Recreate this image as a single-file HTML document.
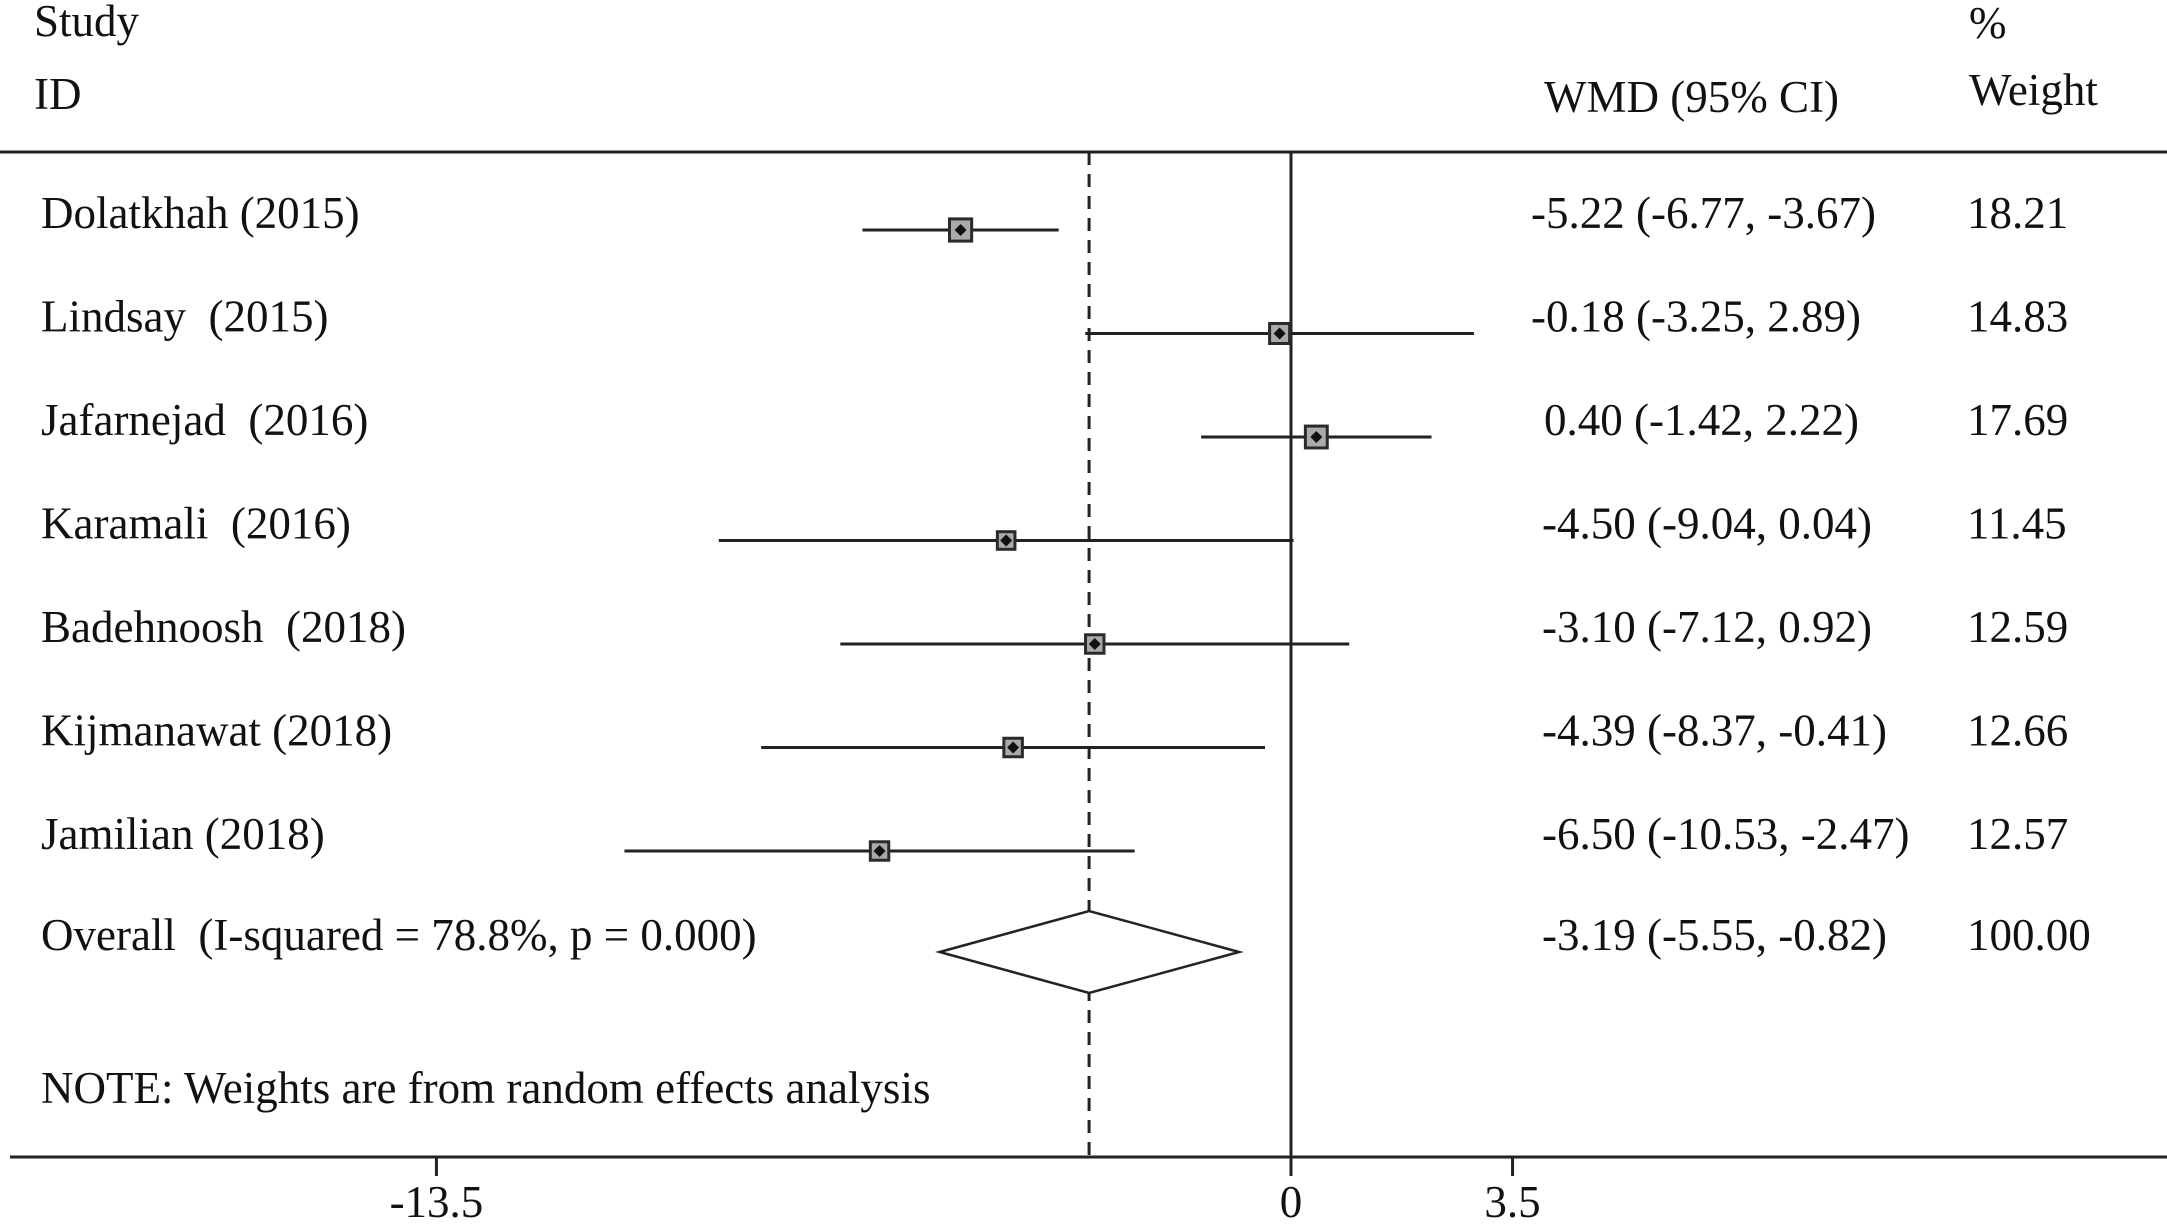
<!DOCTYPE html>
<html><head><meta charset="utf-8"><style>
html,body{margin:0;padding:0;background:#fff}
svg{display:block}
text{font-family:"Liberation Serif",serif;font-size:45px;fill:#111;white-space:pre}
</style></head><body>
<svg id="plot" width="2167" height="1225" viewBox="0 0 2167 1225">
<g id="g"></g>
</svg>
<script>
const studies=["Dolatkhah (2015)","Lindsay  (2015)","Jafarnejad  (2016)","Karamali  (2016)","Badehnoosh  (2018)","Kijmanawat (2018)","Jamilian (2018)"];
const est=[-5.22,-0.18,0.40,-4.50,-3.10,-4.39,-6.50];
const lo=[-6.77,-3.25,-1.42,-9.04,-7.12,-8.37,-10.53];
const hi=[-3.67,2.89,2.22,0.04,0.92,-0.41,-2.47];
const weights=[18.21,14.83,17.69,11.45,12.59,12.66,12.57];
const overall=[-3.19,-5.55,-0.82];
const ticks=[-13.5,0,3.5];
const tickLabels=["-13.5","0","3.5"];
const NS="http://www.w3.org/2000/svg";
const g=document.getElementById('g');
function x(v){return 1291+63.3*v;}
function rowY(i){return 230+103.5*i;}
function fmt(v){return v.toFixed(2);}
function mk(tag,attrs,txt){const e=document.createElementNS(NS,tag);for(const k in attrs)e.setAttribute(k,attrs[k]);if(txt!==undefined)e.textContent=txt;g.appendChild(e);return e;}
let e;
e=mk('line',{x1:0,y1:152,x2:2167,y2:152,stroke:'#222','stroke-width':3});


e=mk('line',{x1:10,y1:1157,x2:2167,y2:1157,stroke:'#222','stroke-width':3});


e=mk('line',{x1:x(0),y1:152,x2:x(0),y2:1157,stroke:'#222','stroke-width':3});


e=mk('line',{x1:x(overall[0]),y1:152,x2:x(overall[0]),y2:1157,stroke:'#222','stroke-width':3,'stroke-dasharray':'13 9'});


ticks.forEach((t,i)=>{
  e=mk('line',{x1:x(t),y1:1157,x2:x(t),y2:1176,stroke:'#222','stroke-width':3});
  
  
  e=mk('text',{x:x(t),y:1217,'text-anchor':'middle'},tickLabels[i]);
  
  
});
const hdr=[["Study",34,36],["ID",34,109],["%",1969,38],["Weight",1969,105],["WMD (95% CI)",1544,112]];
hdr.forEach(h=>{e=mk('text',{x:h[1],y:h[2]},h[0]);
  
  });
studies.forEach((s,i)=>{
  const y=rowY(i);
  e=mk('text',{x:41,y:y-2},s);
  
  
  e=mk('line',{x1:x(lo[i]),y1:y,x2:x(hi[i]),y2:y,stroke:'#222','stroke-width':3});
  
  
  const sz=5.2*Math.sqrt(weights[i]);
  e=mk('rect',{x:x(est[i])-sz/2,y:y-sz/2,width:sz,height:sz,fill:'#aaa',stroke:'#2a2a2a','stroke-width':3});
  
  
  const d=6,cx=x(est[i]);
  e=mk('polygon',{points:`${cx},${y-d} ${cx+d},${y} ${cx},${y+d} ${cx-d},${y}`,fill:'#111'});
  
  
  const lab=fmt(est[i])+" ("+fmt(lo[i])+", "+fmt(hi[i])+")";
  e=mk('text',{x:est[i]>=0?1544:1531,y:y-2},lab);
  if(i>=3)e.setAttribute('x',1542);
  
  
  e=mk('text',{x:1967,y:y-2},weights[i].toFixed(2));
  
  
});
const oy=952;
e=mk('text',{x:41,y:oy-2},"Overall  (I-squared = 78.8%, p = 0.000)");


e=mk('polygon',{points:`${x(overall[1])},${oy} ${x(overall[0])},${oy-41} ${x(overall[2])},${oy} ${x(overall[0])},${oy+41}`,fill:'#fff',stroke:'#222','stroke-width':2.5});


e=mk('text',{x:1542,y:oy-2},fmt(overall[0])+" ("+fmt(overall[1])+", "+fmt(overall[2])+")");


e=mk('text',{x:1967,y:oy-2},"100.00");


e=mk('text',{x:41,y:1103},"NOTE: Weights are from random effects analysis");


</script>
</body></html>
